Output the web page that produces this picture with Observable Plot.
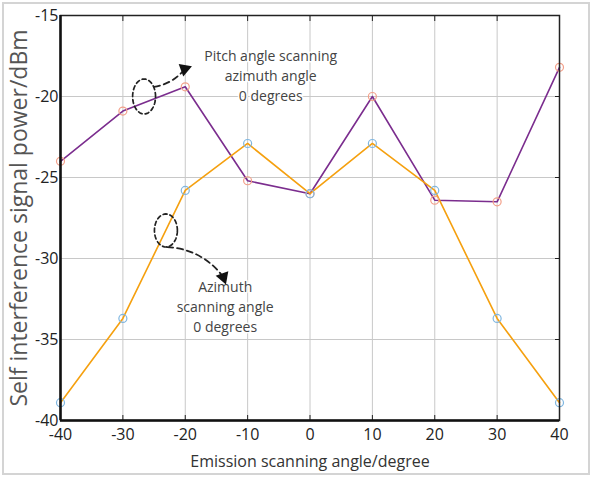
<!DOCTYPE html>
<html><head><meta charset="utf-8">
<script src="https://cdn.jsdelivr.net/npm/d3@7"></script>
<script src="https://cdn.jsdelivr.net/npm/@observablehq/plot@0.6"></script>
<style>
body{margin:0;background:#fff;}
#wrap{position:relative;width:592px;height:477px;}
#wrap:after{content:"";position:absolute;left:2px;top:2px;right:2px;bottom:2px;border:2px solid #d4d4d4;pointer-events:none;}
svg{display:block;font-family:"Open Sans",sans-serif;}
</style></head>
<body><div id="wrap"></div>
<script>
const angles = [-40, -30, -20, -10, 0, 10, 20, 30, 40];
const pitchPower = [-24.0, -20.9, -19.4, -25.2, -26.0, -20.0, -26.4, -26.5, -18.2];
const azimuthPower = [-38.9, -33.7, -25.8, -22.9, -26.0, -22.9, -25.8, -33.7, -38.9];
const xTicks = [-40, -30, -20, -10, 0, 10, 20, 30, 40];
const yTicks = [-15, -20, -25, -30, -35, -40];
const pitchLabel = "Pitch angle scanning\nazimuth angle\n0 degrees";
const azimuthLabel = "Azimuth\nscanning angle\n0 degrees";

const pitch = angles.map((a, i) => ({a, v: pitchPower[i]}));
const azim = angles.map((a, i) => ({a, v: azimuthPower[i]}));
const fmt = d => (d < 0 ? "-" : "") + Math.abs(d);

function ellipse(cx, cy, rx, ry) {
  const pts = [];
  for (let k = 0; k <= 48; k++) {
    const t = k / 48 * 2 * Math.PI;
    pts.push({a: cx + rx * Math.cos(t), v: cy + ry * Math.sin(t)});
  }
  return pts;
}

const chart = Plot.plot({
  width: 592, height: 477,
  marginLeft: 60, marginRight: 33, marginTop: 15, marginBottom: 57,
  style: {fontSize: "16px", color: "#222", background: "transparent"},
  x: {domain: [-40, 40]},
  y: {domain: [-40, -15]},
  marks: [
    Plot.gridX(xTicks, {stroke: "#c8c8c8", strokeOpacity: 1, strokeWidth: 1}),
    Plot.gridY(yTicks, {stroke: "#c8c8c8", strokeOpacity: 1, strokeWidth: 1}),
    Plot.axisX({ticks: xTicks, tickSize: 0, tickPadding: 8, fontSize: 16, label: null, tickFormat: fmt}),
    Plot.axisX({ticks: xTicks, anchor: "top", tickSize: -5, tickFormat: () => "", label: null, stroke: "#222"}),
    Plot.axisX({ticks: xTicks, anchor: "bottom", tickSize: -5, tickFormat: () => "", label: null, stroke: "#222"}),
    Plot.axisY({ticks: yTicks, tickSize: 0, tickPadding: 2, fontSize: 16, label: null, tickFormat: fmt}),
    Plot.axisY({ticks: yTicks, anchor: "right", tickSize: -5, tickFormat: () => "", label: null, stroke: "#222"}),
    Plot.text([pitchLabel], {x: -6.3, y: -18.65, text: d => d, fontSize: 14, lineHeight: 1.45, fill: "#444", stroke: "white", strokeWidth: 3}),
    Plot.text([azimuthLabel], {x: -13.6, y: -32.9, text: d => d, fontSize: 14, lineHeight: 1.45, fill: "#444", stroke: "white", strokeWidth: 3}),
    Plot.line(pitch, {x: "a", y: "v", stroke: "#7b2d8e", strokeWidth: 1.6}),
    Plot.line(azim, {x: "a", y: "v", stroke: "#f5a00f", strokeWidth: 1.6}),
    Plot.dot(pitch, {x: "a", y: "v", r: 4, stroke: "#f3a08a", strokeWidth: 1.2}),
    Plot.dot(azim, {x: "a", y: "v", r: 4, stroke: "#7fb6e0", strokeWidth: 1.2}),
    Plot.line(ellipse(-26.6, -20.0, 1.84, 1.08), {x: "a", y: "v", stroke: "#222", strokeWidth: 1.7, strokeDasharray: "4,3"}),
    Plot.line(ellipse(-23.1, -28.27, 1.84, 1.02), {x: "a", y: "v", stroke: "#222", strokeWidth: 1.7, strokeDasharray: "4,3"}),
    Plot.arrow([0], {x1: -25.0, y1: -19.4, x2: -20.4, y2: -18.45, bend: -20, stroke: "#222", strokeWidth: 1.8, strokeDasharray: "6,4", headLength: 0}),
    Plot.dot([0], {x: -20.1, y: -18.3, symbol: "triangle", r: 5, fill: "#111", rotate: 70}),
    Plot.arrow([0], {x1: -22.9, y1: -29.3, x2: -14.2, y2: -31.0, bend: 25, stroke: "#222", strokeWidth: 1.8, strokeDasharray: "6,4", headLength: 0}),
    Plot.dot([0], {x: -13.9, y: -31.15, symbol: "triangle", r: 5, fill: "#111", rotate: 160}),
    Plot.frame({stroke: "#222", strokeWidth: 1.5}),
    Plot.ruleX([-40], {stroke: "#111", strokeWidth: 2.5}),
    Plot.ruleY([-40], {stroke: "#111", strokeWidth: 2.5}),
    Plot.axisY({ticks: [], label: "Self interference signal power/dBm", labelAnchor: "center", labelOffset: 50, fontSize: 23, labelArrow: "none", color: "#555"}),
    Plot.axisX({ticks: [], label: "Emission scanning angle/degree", labelAnchor: "center", labelOffset: 46, fontSize: 16, labelArrow: "none", color: "#333"})
  ]
});
document.getElementById("wrap").appendChild(chart);
</script></body></html>
